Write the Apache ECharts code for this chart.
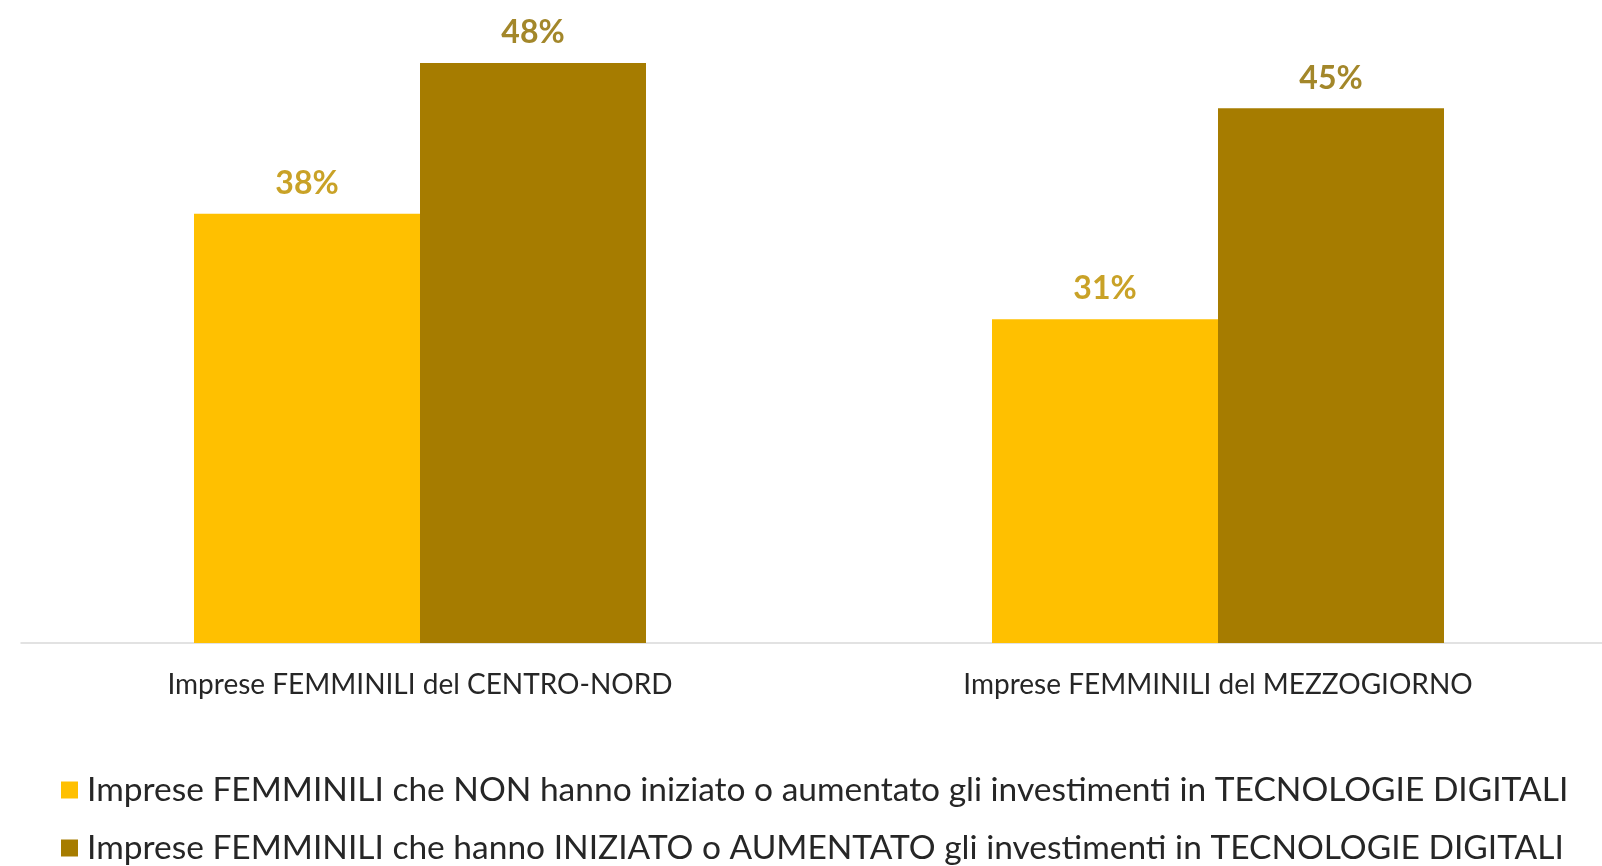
<!DOCTYPE html>
<html>
<head>
<meta charset="utf-8">
<script src="https://cdn.jsdelivr.net/npm/echarts@6/dist/echarts.min.js"></script>
<style>
html,body{margin:0;padding:0;background:#fff;}
#chart{width:1602px;height:866px;}
</style>
</head>
<body>
<div id="chart"></div>
<script>
const categories = ["Imprese FEMMINILI del CENTRO-NORD", "Imprese FEMMINILI del MEZZOGIORNO"];
const seriesNames = [
  "Imprese FEMMINILI che NON hanno iniziato o aumentato gli investimenti in TECNOLOGIE DIGITALI",
  "Imprese FEMMINILI che hanno INIZIATO o AUMENTATO gli investimenti in TECNOLOGIE DIGITALI"
];
const notInvesting = [38, 31];
const investing = [48, 45];

const FONT = "Lato";
const chart = echarts.init(document.getElementById('chart'));
chart.setOption({
  backgroundColor: '#ffffff',
  animation: false,
  grid: { left: 21, width: 1596, top: 33, bottom: 223, outerBoundsMode: 'none' },
  legend: {
    orient: 'vertical',
    left: 61,
    top: 773,
    padding: 0,
    height: 93,
    itemWidth: 17,
    itemHeight: 17,
    itemGap: 24,
    icon: 'rect',
    textStyle: { fontFamily: FONT, fontSize: 33.5, lineHeight: 33, color: '#262626', padding: [0, 0, 0, 4] },
    data: seriesNames
  },
  xAxis: {
    type: 'category',
    data: categories,
    axisLine: { lineStyle: { color: '#d9d9d9', width: 1.5 } },
    axisTick: { show: false },
    axisLabel: { fontFamily: FONT, fontSize: 28, color: '#262626', margin: 28 }
  },
  yAxis: {
    type: 'value',
    min: 9.5,
    max: 50,
    show: false,
    splitLine: { show: false }
  },
  series: [
    {
      name: seriesNames[0],
      type: 'bar',
      data: notInvesting,
      barWidth: 226,
      barGap: '0%',
      itemStyle: { color: '#FFC000' },
      label: { show: true, position: 'top', distance: 14, formatter: '{c}%', fontFamily: FONT, fontWeight: 'bold', fontSize: 32, color: '#C9A227' }
    },
    {
      name: seriesNames[1],
      type: 'bar',
      data: investing,
      barWidth: 226,
      barGap: '0%',
      itemStyle: { color: '#A67C00' },
      label: { show: true, position: 'top', distance: 14, formatter: '{c}%', fontFamily: FONT, fontWeight: 'bold', fontSize: 32, color: '#A3872A' }
    }
  ]
});
</script>
</body>
</html>
